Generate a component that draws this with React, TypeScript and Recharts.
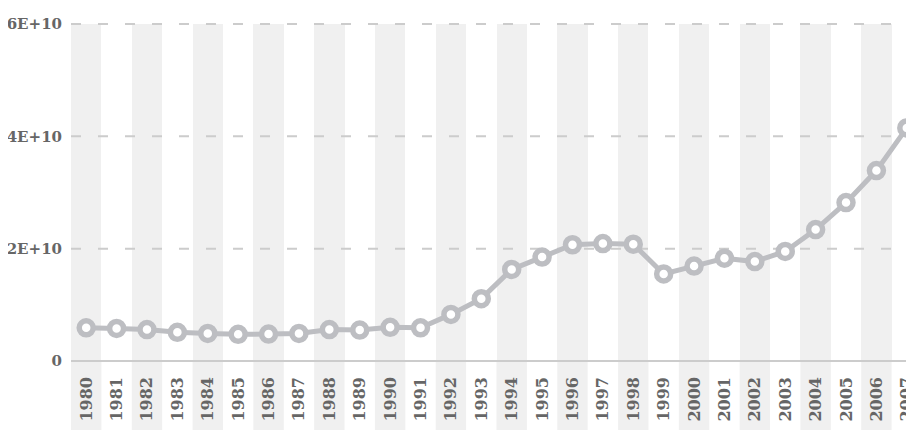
import { LineChart, Line, XAxis, YAxis, CartesianGrid } from "recharts"

const years = [
  "1980", "1981", "1982", "1983", "1984", "1985", "1986", "1987", "1988", "1989",
  "1990", "1991", "1992", "1993", "1994", "1995", "1996", "1997", "1998", "1999",
  "2000", "2001", "2002", "2003", "2004", "2005", "2006", "2007",
]

const values = [
  5.9e9, 5.8e9, 5.6e9, 5.1e9, 4.9e9, 4.75e9, 4.8e9, 4.9e9, 5.6e9, 5.5e9,
  6.0e9, 5.9e9, 8.3e9, 11.1e9, 16.3e9, 18.5e9, 20.7e9, 20.9e9, 20.8e9, 15.5e9,
  16.9e9, 18.3e9, 17.7e9, 19.5e9, 23.4e9, 28.2e9, 33.9e9, 41.5e9,
]

const yTicks = [0, 2e10, 4e10, 6e10]
const yTickLabels = ["0", "2E+10", "4E+10", "6E+10"]

const data = years.map((year, i) => ({ year, value: values[i] }))

const CHART_W = 914
const CHART_H = 422
const Y_AXIS_W = 63
const X_AXIS_H = 69
const BAND = "#f0f0f0"
const LINE = "#bdbec2"
const LABEL = "#666"
const FONT = "'DejaVu Serif', serif"

const bandWidth = (CHART_W - Y_AXIS_W) / years.length

function YearTick(props: any) {
  const { x, y, payload, index } = props
  return (
    <g>
      {index % 2 === 0 && (
        <rect x={x - bandWidth / 2} y={y + 1} width={bandWidth} height={X_AXIS_H} fill={BAND} />
      )}
      <text
        transform={`translate(${x},${y + 16}) rotate(-90)`}
        textAnchor="end"
        dominantBaseline="central"
        fill={LABEL}
        fontFamily={FONT}
        fontWeight="bold"
        fontSize={16}
      >
        {payload.value}
      </text>
    </g>
  )
}

export default function App() {
  return (
    <div style={{ width: 906, height: CHART_H, overflow: "hidden" }}>
      <LineChart
        width={CHART_W}
        height={CHART_H}
        data={data}
        margin={{ top: 16, right: 0, bottom: 0, left: 0 }}
      >
        <CartesianGrid
          vertical={() => null}
          stroke="#cccccc"
          strokeWidth={2}
          strokeDasharray="10 17"
          verticalFill={[BAND, "#ffffff"]}
          verticalCoordinatesGenerator={({ offset }: any) =>
            years.map((_, i) => offset.left + (i * offset.width) / years.length)
          }
        />
        <XAxis
          dataKey="year"
          scale="band"
          height={X_AXIS_H}
          interval={0}
          tickLine={false}
          tickSize={0}
          tickMargin={0}
          axisLine={{ stroke: "#cccccc", strokeWidth: 2 }}
          tick={<YearTick />}
        />
        <YAxis
          width={Y_AXIS_W}
          domain={[0, 6e10]}
          ticks={yTicks}
          tickFormatter={(v: number) => yTickLabels[yTicks.indexOf(v)]}
          axisLine={false}
          tickLine={false}
          tickMargin={3}
          tick={{ fill: LABEL, fontFamily: FONT, fontWeight: "bold", fontSize: 15 }}
        />
        <Line
          type="linear"
          dataKey="value"
          stroke={LINE}
          strokeWidth={5}
          dot={{ r: 7, fill: "#ffffff", stroke: LINE, strokeWidth: 5.5 }}
          isAnimationActive={false}
        />
      </LineChart>
    </div>
  )
}
